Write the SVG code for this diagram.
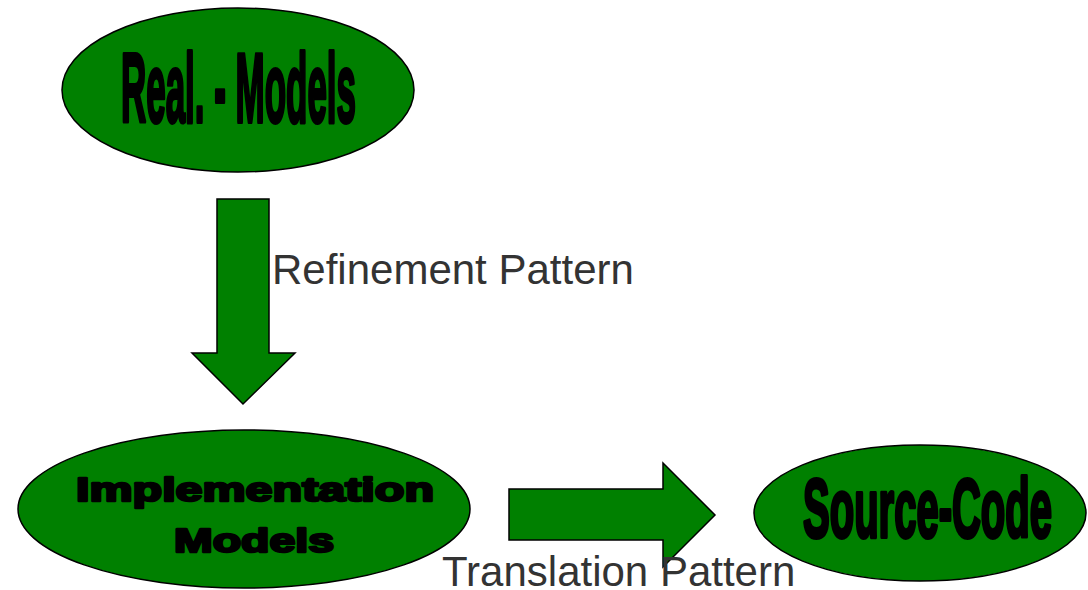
<svg xmlns="http://www.w3.org/2000/svg" width="1088" height="590" viewBox="0 0 1088 590">
  <style>
    .shape { fill: #008000; stroke: #000; stroke-width: 1.5; }
    .heavy { font-family: "Liberation Sans", Arial, sans-serif; font-weight: bold; fill: #000; stroke: #000; stroke-linejoin: round; }
    .label { font-family: "Liberation Sans", Arial, sans-serif; font-size: 42px; fill: #333; }
  </style>
  <rect width="1088" height="590" fill="#fff"/>

  <g id="connectors">
    <!-- refinement: block arrow pointing down -->
    <polygon class="shape" points="217,199 269,199 269,353 295,353 243,404 192,353 217,353"/>
    <!-- translation: block arrow pointing right -->
    <polygon class="shape" points="509,489 663,489 663,463 715,515 663,567 663,540 509,540"/>
  </g>

  <g id="node-real-models">
    <ellipse class="shape" cx="238" cy="90" rx="176" ry="82"/>
    <text class="heavy" x="121" y="122" font-size="99" stroke-width="4" textLength="235" lengthAdjust="spacingAndGlyphs">Real. - Models</text>
  </g>

  <g id="node-implementation-models">
    <ellipse class="shape" cx="244" cy="509" rx="226" ry="79"/>
    <text class="heavy" x="76" y="501" font-size="34" stroke-width="2.5" textLength="358" lengthAdjust="spacingAndGlyphs">Implementation</text>
    <text class="heavy" x="174" y="552" font-size="34" stroke-width="2.5" textLength="160" lengthAdjust="spacingAndGlyphs">Models</text>
  </g>

  <g id="node-source-code">
    <ellipse class="shape" cx="920" cy="513" rx="166" ry="68"/>
    <text class="heavy" x="803" y="537" font-size="83" stroke-width="4" textLength="249" lengthAdjust="spacingAndGlyphs">Source-Code</text>
  </g>

  <g id="labels">
    <text class="label" x="272" y="284">Refinement Pattern</text>
    <text class="label" x="442" y="586">Translation Pattern</text>
  </g>
</svg>
